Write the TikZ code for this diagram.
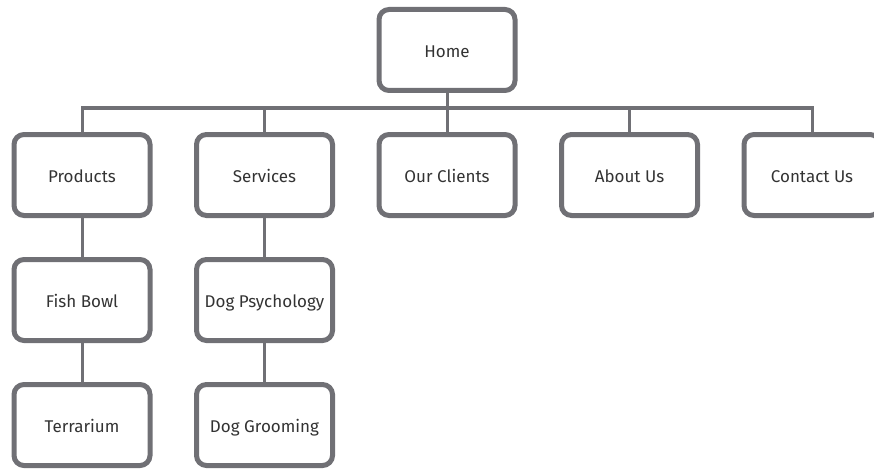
\documentclass[tikz,border=0pt]{standalone}
\usepackage{fontspec}
\setmainfont{Fira Sans}
\definecolor{boxgray}{RGB}{112,112,117}
\definecolor{textgray}{RGB}{51,51,51}
\begin{document}
\begin{tikzpicture}[
                        node distance=125pt,
                        box/.style={rectangle, draw=boxgray, line width=5pt, rounded corners=10pt,
                                    minimum width=136pt, minimum height=81pt, inner sep=0pt,
                                    text height=15pt, text depth=0pt,
                                    text=textgray, font=\fontsize{17}{20}\selectfont},
                        link/.style={draw=boxgray, line width=3pt}
                    ]
                    \useasboundingbox (0,0) rectangle (874pt,-468pt);
                    \clip (0,0) rectangle (874pt,-468pt);
                    % Blocks
                    \node [box] at (447pt,-50pt) (home) {Home};
                    \node [box,below of=home] (clients) {Our Clients};
                    \node [box,left of=clients,node distance=182.5pt] (services) {Services};
                    \node [box,left of=services,node distance=182.5pt] (products) {Products};
                    \node [box,right of=clients,node distance=182.5pt] (about) {About Us};
                    \node [box,right of=about,node distance=182.5pt] (contact) {Contact Us};
                    \node [box,below of=products] (fish) {Fish Bowl};
                    \node [box,below of=fish] (terra) {Terrarium};
                    \node [box,below of=services] (psych) {Dog Psychology};
                    \node [box,below of=psych] (groom) {Dog Grooming};
                    \coordinate (bus) at (0,-108pt);

                    % Connections
                    \draw [link] (home.south) -- (home.south|-bus);
                    \draw [link] (products.north) -- (products.north|-bus) -- (contact.north|-bus) -- (contact.north);
                    \draw [link] (services.north) -- (services.north|-bus);
                    \draw [link] (clients.north) -- (clients.north|-bus);
                    \draw [link] (about.north) -- (about.north|-bus);
                    \draw [link] (products) -- (fish);
                    \draw [link] (fish) -- (terra);
                    \draw [link] (services) -- (psych);
                    \draw [link] (psych) -- (groom);
                \end{tikzpicture}
\end{document}
